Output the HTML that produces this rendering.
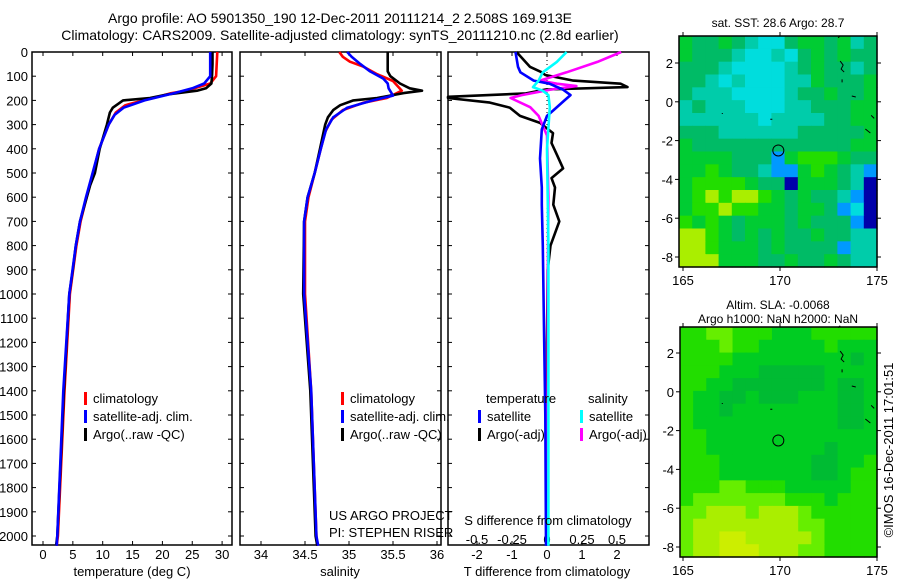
<!DOCTYPE html>
<html><head><meta charset="utf-8"><style>
body{margin:0;background:#fff;}
svg{display:block;font-family:"Liberation Sans",sans-serif;}
</style></head><body>
<svg id="fig" width="900" height="580" viewBox="0 0 900 580" xmlns="http://www.w3.org/2000/svg">
<text x="340" y="23" font-size="14" text-anchor="middle">Argo profile: AO 5901350_190 12-Dec-2011 20111214_2 2.508S 169.913E</text>
<text x="340" y="40" font-size="14" text-anchor="middle">Climatology: CARS2009. Satellite-adjusted climatology: synTS_20111210.nc (2.8d earlier)</text>
<g id="g"></g>
</svg>
<script>
// ---------- data ----------
const depthTicks=[0,100,200,300,400,500,600,700,800,900,1000,1100,1200,1300,1400,1500,1600,1700,1800,1900,2000];
const tempTicks=[0,5,10,15,20,25,30];
const salTicks=[34,34.5,35,35.5,36];
const tdiffTicks=[-2,-1,0,1,2];
const sdiffTicks=[-0.5,-0.25,0,0.25,0.5];
const latTicks=[2,0,-2,-4,-6,-8];
const lonTicks=[165,170,175];

const tArgoD=[0,50,100,130,150,160,175,190,200,230,250,300,400,500,550,700,800,900,1000,1400,2000,2040];
const tArgoV=[28.4,28.4,28.3,28.2,27.3,25.8,21,17.9,13.4,11.7,11.2,10.7,9.5,8.7,7.9,6.2,5.5,5.0,4.4,3.5,2.4,2.2];
const tClimD=[0,100,130,160,170,190,200,220,250,300,350,400,500,600,700,800,1000,1400,2000,2040];
const tClimV=[29.2,29.0,28.0,24.0,21.5,18.5,16.8,13.8,12.2,11.0,10.2,9.4,8.4,7.3,6.3,5.6,4.5,3.6,2.5,2.3];
const tSatD=[0,100,130,150,170,200,230,260,300,400,500,600,700,800,1000,1400,2000,2040];
const tSatV=[28.0,28.0,27.0,25.0,22.0,17.0,13.5,12.0,11.0,9.4,8.3,7.2,6.2,5.5,4.4,3.4,2.4,2.3];

const sArgoD=[0,80,100,130,150,160,170,190,200,220,240,270,300,350,400,500,600,700,1000,1400,2000,2040];
const sArgoV=[35.44,35.44,35.47,35.58,35.69,35.83,35.62,35.32,35.05,34.9,34.82,34.76,34.73,34.7,34.67,34.61,34.53,34.49,34.48,34.56,34.62,34.64];
const sClimD=[0,20,40,60,90,120,160,190,210,240,280,330,400,500,600,700,1000,1400,2000,2040];
const sClimV=[34.89,34.93,35.01,35.16,35.31,35.5,35.6,35.43,35.16,34.93,34.8,34.73,34.68,34.61,34.54,34.5,34.5,34.57,34.63,34.64];
const sSatD=[0,20,50,80,110,130,150,180,200,230,270,320,400,500,600,700,1000,1400,2000,2040];
const sSatV=[34.98,35.03,35.13,35.24,35.39,35.44,35.45,35.5,35.27,34.98,34.82,34.74,34.68,34.61,34.53,34.49,34.49,34.57,34.63,34.65];

const dTArgoD=[0,61,84,95,118,131,145,155,171,185,190,209,230,264,293,335,376,430,481,521,560,631,700,800,900,1200,2040];
const dTArgoV=[-0.87,-0.49,-0.15,-0.05,0.75,2.1,2.3,-0.04,-0.6,-2.83,-2.83,-1.63,-1.06,-0.77,-0.2,0.17,0.13,0.3,0.46,0.13,0.23,0.18,0.35,0.1,0.02,0.0,0.0];
const dTSatD=[0,61,84,118,131,155,178,200,240,264,320,440,560,631,800,1200,1500,2040];
const dTSatV=[-0.9,-0.83,-0.76,-0.38,0.07,0.45,0.67,0.5,0.19,0,-0.15,-0.2,-0.15,-0.15,-0.12,-0.08,-0.05,-0.03];
const dSArgoD=[0,41,84,118,131,141,155,178,190,228,264,305,345,600,1000,2040];
const dSArgoV=[0.53,0.36,0.14,-0.05,0.07,0.21,0.03,-0.18,-0.26,-0.12,-0.06,-0.03,0,0.01,0.005,0.005];
const dSSatD=[0,41,84,118,145,160,178,228,400,800,1200,2040];
const dSSatV=[0.14,0.07,-0.03,-0.06,-0.1,-0.03,0.01,0.02,0.0,0.01,0.01,0.01];

const sstRows=["cbbcbahhbccbcab","cbbbahhahbcbcbb","bbbahhhhabcbbab","bbahahhhaacbbbc","baaahhhhabbcbbc","abaaahhhaabbbcc","aaaaaahaaaabbcc","bbbaaaaaabbbbbc","cbbbbbbbbbbbbcc","ccccbbbfcdddcbb","ccdcbbaffcdcbaf","cddddcbbgcccbag","cdedeedcbcbbafg","cddeddccbccbfhg","dcdcbcccbcbbbfg","eedcbcbcbbcbbaa","eedcccbcbbbbfaa","eeecccbbcbbcbaa"];
const slaRows=["ddeedddcccddddd","dddeddcccccdccc","ddddcccccccccbc","dddcccbbbbbcccc","ddccbbbbbbbcbbc","dccbbcbbbcccbbc","dccbccccccccbbc","dcccccccccccbbc","ddccccccccccccc","ddcccccccccbccc","dddcccccccbbccd","dddcccccccbbcdd","dddeedddcccccdd","deeeeeeedddcddd","eeyyyeyyyeddddd","eyyyyyyyyeedddd","eyyzzyyyyyedddd","eyyzzzyyyeedddd"];
const argoLon=169.913, argoLat=-2.508;

// ---------- helpers ----------
const NS="http://www.w3.org/2000/svg";
const G=document.getElementById('g');
function mk(tag,attrs,parent){const e=document.createElementNS(NS,tag);for(const k in attrs)e.setAttribute(k,attrs[k]);(parent||G).appendChild(e);return e;}
function txt(x,y,s,size,anchor,parent){const t=mk('text',{x:x,y:y,'font-size':size||13,'text-anchor':anchor||'middle'},parent);t.textContent=s;return t;}
const yD=d=>52+0.242*d;
const xT=v=>43+5.97*v;
const xS=v=>261+88*(v-34);
const xDT=v=>547+35*v;
const xDS=v=>547+140*v;

const panels=[{x0:32,x1:232,name:'temperature-panel'},{x0:240,x1:441,name:'salinity-panel'},{x0:448,x1:649,name:'difference-panel'}];
panels.forEach(p=>{
  const r=mk('rect',{x:p.x0,y:52,width:p.x1-p.x0,height:493,fill:'none',stroke:'#000','stroke-width':1.5});
  
  
  depthTicks.forEach(d=>{mk('line',{x1:p.x0,x2:p.x0+4,y1:yD(d),y2:yD(d),stroke:'#000'});mk('line',{x1:p.x1,x2:p.x1-4,y1:yD(d),y2:yD(d),stroke:'#000'});});
});
depthTicks.forEach(d=>{const t=txt(28,yD(d)+5,String(d),13,'end');});

function xticks(vals,fx,lblY){vals.forEach(v=>{const x=fx(v);mk('line',{x1:x,x2:x,y1:52,y2:56,stroke:'#000'});mk('line',{x1:x,x2:x,y1:545,y2:541,stroke:'#000'});const t=txt(x,lblY,String(v),13);});}
xticks(tempTicks,xT,559);
xticks(salTicks,xS,559);
xticks(tdiffTicks,xDT,559);
sdiffTicks.forEach(v=>{const t=txt(xDS(v),544,String(v),13);});
mk('line',{x1:547,x2:547,y1:52,y2:545,stroke:'#000','stroke-dasharray':'1,3'});

[[132,'temperature (deg C)','x-axis-title-temperature'],[340,'salinity','x-axis-title-salinity'],[547,'T difference from climatology','x-axis-title-tdiff']].forEach(a=>{const t=txt(a[0],576,a[1],13);});

function series(D,V,fx,col,name,minX){const pts=D.map((d,i)=>{let x=fx(V[i]);if(minX!==undefined)x=Math.max(minX,x);return x.toFixed(1)+','+yD(d).toFixed(1);}).join(' ');const l=mk('polyline',{points:pts,fill:'none',stroke:col,'stroke-width':2.6,'stroke-linejoin':'round'});}
series(tClimD,tClimV,xT,'#ff0000','temp-climatology-line');
series(tArgoD,tArgoV,xT,'#000','temp-argo-line');
series(tSatD,tSatV,xT,'#0000ff','temp-satellite-line');
series(sClimD,sClimV,xS,'#ff0000','sal-climatology-line');
series(sArgoD,sArgoV,xS,'#000','sal-argo-line');
series(sSatD,sSatV,xS,'#0000ff','sal-satellite-line');
series(dTArgoD,dTArgoV,xDT,'#000','tdiff-argo-line',448);
series(dSArgoD,dSArgoV,xDS,'#ff00ff','sdiff-argo-line',448);
series(dTSatD,dTSatV,xDT,'#0000ff','tdiff-satellite-line',448);
series(dSSatD,dSSatV,xDS,'#00ffff','sdiff-satellite-line',448);

function legEntry(x,y,col,label,name){mk('rect',{x:x,y:y-11,width:3,height:13,fill:col});const t=txt(x+9,y,label,13,'start');}
legEntry(84,403,'#ff0000','climatology','legend-climatology');
legEntry(84,421,'#0000ff','satellite-adj. clim.','legend-satellite-adj');
legEntry(84,439,'#000','Argo(..raw -QC)','legend-argo');
legEntry(341,403,'#ff0000','climatology','legend-climatology-2');
legEntry(341,421,'#0000ff','satellite-adj. clim.','legend-satellite-adj-2');
legEntry(341,439,'#000','Argo(..raw -QC)','legend-argo-2');
txt(486,403,'temperature',13,'start');
legEntry(478,421,'#0000ff','satellite','legend-t-satellite');
legEntry(478,439,'#000','Argo(-adj)','legend-t-argo');
txt(588,403,'salinity',13,'start');
legEntry(580,421,'#00ffff','satellite','legend-s-satellite');
legEntry(580,439,'#ff00ff','Argo(-adj)','legend-s-argo');
txt(329,520,'US ARGO PROJECT',13,'start');
txt(329,537,'PI: STEPHEN RISER',13,'start');
txt(548,525,'S difference from climatology',13);

// ---------- maps ----------
const sstCol={a:'#00ccaa',b:'#00bb66',c:'#00cc33',d:'#22dd00',e:'#aaee00',f:'#0099ff',g:'#0000aa',h:'#00dddd'};
const slaCol={b:'#00bb33',c:'#00cc22',d:'#22dd00',e:'#66ee00',y:'#aaee00',z:'#ccee00'};
function map(x0,y0,x1,y1,lat2y,rows,cols,title1,title2,name){
  const lx=lon=>683+19.4*(lon-165), ly=lat=>lat2y-19.4*(lat-2);
  const nr=rows.length,nc=rows[0].length,cw=(x1-x0)/nc,ch=(y1-y0)/nr;
  rows.forEach((row,ri)=>{[...row].forEach((c,ci)=>{const cell=mk('rect',{x:(x0+ci*cw).toFixed(2),y:(y0+ri*ch).toFixed(2),width:(cw+0.6).toFixed(2),height:(ch+0.6).toFixed(2),fill:cols[c]});
    
    });});
  const f=mk('rect',{x:x0,y:y0,width:x1-x0,height:y1-y0,fill:'none',stroke:'#000','stroke-width':1.5});
  
  
  latTicks.forEach(l=>{const y=ly(l);mk('line',{x1:x0,x2:x0-4,y1:y,y2:y,stroke:'#000'});mk('line',{x1:x1,x2:x1+4,y1:y,y2:y,stroke:'#000'});txt(x0-6,y+5,String(l),13,'end');});
  lonTicks.forEach(l=>{const x=lx(l);mk('line',{x1:x,x2:x,y1:y0,y2:y0-4,stroke:'#000'});mk('line',{x1:x,x2:x,y1:y1,y2:y1+4,stroke:'#000'});txt(x,y1+18,String(l),13);});
  mk('path',{d:`M${lx(173)} ${ly(3.3)}l2 -2 M${lx(173.1)} ${ly(2.1)}l3 4 l-2 4 l3 3 M${lx(173.2)} ${ly(1)}l0 -3 M${lx(173.7)} ${ly(0.3)}l4 1 M${lx(174.7)} ${ly(-0.7)}l3 3 M${lx(174.4)} ${ly(-1.4)}l5 4 M${lx(167)} ${ly(-0.6)}l1 0 M${lx(169.5)} ${ly(-0.9)}l2 0`,stroke:'#000',fill:'none','stroke-width':1});
  const c=mk('circle',{cx:lx(argoLon),cy:ly(argoLat),r:5.5,fill:'none',stroke:'#000','stroke-width':1});
  
  
  if(title2){txt(778,y0-18,title1,12);txt(778,y0-4,title2,12);}else txt(778,y0-9,title1,12);
}
map(679,36,877,267,63,sstRows,sstCol,'sat. SST: 28.6 Argo: 28.7',null,'sst-map');
map(680,327,877,557,353,slaRows,slaCol,'Altim. SLA: -0.0068','Argo h1000: NaN h2000: NaN','sla-map');
const cr=txt(0,0,'©IMOS 16-Dec-2011 17:01:51',13);
cr.setAttribute('transform','translate(893,450) rotate(-90)');


</script>
</body></html>
